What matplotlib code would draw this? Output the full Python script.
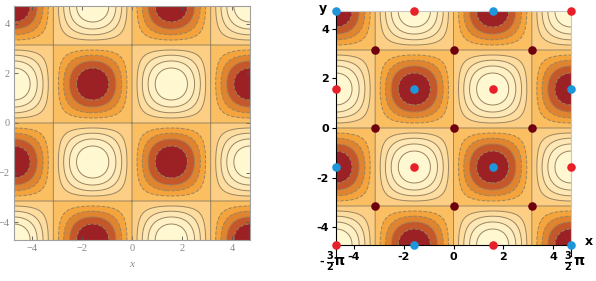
import numpy as np
import matplotlib.pyplot as plt
from matplotlib.colors import ListedColormap, BoundaryNorm

# f(x, y) = sin(x) * sin(y) on [-3pi/2, 3pi/2]^2
levels = [-1.01, -0.8, -0.6, -0.4, -0.2, 0.0, 0.2, 0.4, 0.6, 0.8, 1.01]
fill_colors = ["#9c2125", "#c5582a", "#e08430", "#f5a43c", "#fbbf62",
               "#fdcf85", "#fedda0", "#fee8b6", "#fff1c6", "#fff8d1"]
line_levels = [-0.8, -0.6, -0.4, -0.2, 0.0, 0.2, 0.4, 0.6, 0.8]

ticks = [-4, -2, 0, 2, 4]

# critical points, in units of pi
max_x = [0.5, -0.5, -1.5, 1.5, -0.5, 1.5, 0.5, -1.5]
max_y = [0.5, -0.5, 0.5, -0.5, 1.5, 1.5, -1.5, -1.5]
min_x = [-0.5, 0.5, -1.5, 0.5, 1.5, -1.5, -0.5, 1.5]
min_y = [0.5, -0.5, 1.5, 1.5, 0.5, -0.5, -1.5, -1.5]
sad_x = [-1, 0, 1, -1, 0, 1, -1, 0, 1]
sad_y = [1, 1, 1, 0, 0, 0, -1, -1, -1]

lim = 1.5 * np.pi
g = np.linspace(-lim, lim, 800)
X, Y = np.meshgrid(g, g)
Z = np.sin(X) * np.sin(Y)

cmap = ListedColormap(fill_colors)
norm = BoundaryNorm(levels, cmap.N)

fig = plt.figure(figsize=(5.96, 2.81), dpi=100)
ax1 = fig.add_axes([14 / 596, 41 / 281, 236 / 596, 234 / 281])
ax2 = fig.add_axes([336 / 596, 36 / 281, 235 / 596, 234 / 281])

for ax in (ax1, ax2):
    ax.imshow(Z, cmap=cmap, norm=norm, origin="lower", extent=[-lim, lim, -lim, lim],
              interpolation="antialiased", aspect="auto")
    ax.contour(X, Y, Z, levels=line_levels, colors="#9a845f", linewidths=0.7)
    ax.set_xlim(-lim, lim)
    ax.set_ylim(-lim, lim)
    ax.set_xticks(ticks)
    ax.set_yticks(ticks)

# left: Mathematica-like frame
for s in ax1.spines.values():
    s.set_color("#a0a0a0")
    s.set_linewidth(0.8)
ax1.tick_params(direction="in", length=3, width=0.6, color="#555555",
                labelsize=7.5, labelcolor="#888888", pad=3, top=True, right=True)
ax1.set_xticklabels(["\u22124", "\u22122", "0", "2", "4"], family="Liberation Serif")
ax1.set_yticklabels(["\u22124", "\u22122", "0", "2", "4"], family="Liberation Serif")
ax1.set_xlabel("x", family="Liberation Serif", style="italic", color="#888888",
               fontsize=8, labelpad=5)

# right: axes with critical points
ax2.spines["top"].set_color("#c8c8c8")
ax2.spines["right"].set_color("#c8c8c8")
ax2.spines["left"].set_color("black")
ax2.spines["bottom"].set_color("black")
ax2.tick_params(direction="out", length=3, width=0.8, labelsize=8, pad=2)
ax2.set_xticklabels(["-4", "-2", "0", "2", "4"])
ax2.set_yticklabels(["-4", "-2", "0", "2", "4"])
for lab in ax2.get_xticklabels() + ax2.get_yticklabels():
    lab.set_fontweight("bold")

# extra end ticks: -3/2 pi and 3/2 pi, built as stacked fraction
for xe in (-lim, lim):
    ax2.plot([xe, xe], [-lim, -lim - 0.45], color="black", lw=0.8, clip_on=False)
bold = dict(ha="center", va="center", fontsize=7, fontweight="bold")
for fx, px, minus in ((-lim - 0.26, -lim + 0.12, True), (lim - 0.14, lim + 0.3, False)):
    ax2.text(fx, -lim - 0.46, "3", **bold)
    ax2.text(fx, -lim - 0.9, "2", **bold)
    ax2.plot([fx - 0.12, fx + 0.12], [-lim - 0.67, -lim - 0.67], color="black", lw=0.8,
             clip_on=False)
    ax2.text(px, -lim - 0.64, "\u03c0", ha="center", va="center", fontsize=10,
             fontweight="bold")
    if minus:
        ax2.text(fx - 0.3, -lim - 0.67, "-", ha="center", va="center", fontsize=8,
                 fontweight="bold")

ax2.text(lim + 0.55, -lim + 0.15, "x", ha="left", va="center", fontsize=9, fontweight="bold")
ax2.text(-lim - 0.35, lim + 0.12, "y", ha="right", va="center", fontsize=9, fontweight="bold")

ax2.scatter(np.array(max_x) * np.pi, np.array(max_y) * np.pi, s=38, color="#e8202a",
            zorder=5, clip_on=False, linewidths=0)
ax2.scatter(np.array(min_x) * np.pi, np.array(min_y) * np.pi, s=38, color="#1e96dc",
            zorder=5, clip_on=False, linewidths=0)
ax2.scatter(np.array(sad_x) * np.pi, np.array(sad_y) * np.pi, s=38, color="#6e000f",
            zorder=5, clip_on=False, linewidths=0)

fig.savefig("out.png", dpi=100)
